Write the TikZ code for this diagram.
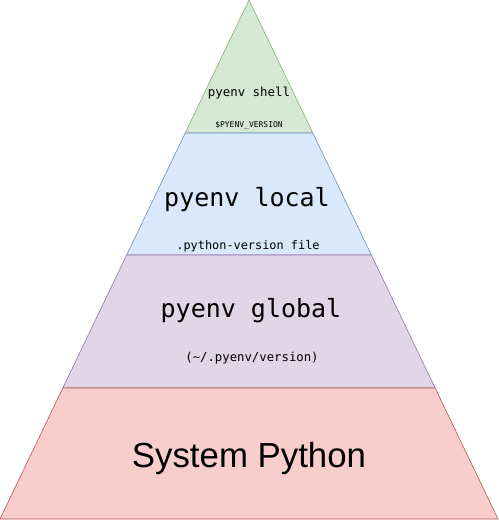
\documentclass[tikz,border=0pt]{standalone}
\usepackage{fontspec}
\setmonofont{DejaVu Sans Mono}
\newfontfamily\pysans{Liberation Sans}
\usetikzlibrary{calc}

\definecolor{shellfill}{HTML}{D5E8D4}
\definecolor{shelldraw}{HTML}{82B366}
\definecolor{localfill}{HTML}{DAE8FC}
\definecolor{localdraw}{HTML}{6C8EBF}
\definecolor{globalfill}{HTML}{E1D5E7}
\definecolor{globaldraw}{HTML}{9673A6}
\definecolor{sysfill}{HTML}{F8CECC}
\definecolor{sysdraw}{HTML}{B85450}

\begin{document}
\begin{tikzpicture}[x=1pt, y=-1pt, line join=round,
    layer/.style={line width=0.6pt},
    cmd/.style={inner sep=0pt, font=\ttfamily\fontsize{#1}{#1}\selectfont}]
    % pyenv 버전 선택 피라미드
    \useasboundingbox (0,0) rectangle (498,521);
    \def\h{519}
    \coordinate (A) at (249, 0);
    \coordinate (BL) at (0, \h);
    \coordinate (BR) at (498, \h);
    \coordinate (L1) at ($(A)!{133/\h}!(BL)$);
    \coordinate (R1) at ($(A)!{133/\h}!(BR)$);
    \coordinate (L2) at ($(A)!{255/\h}!(BL)$);
    \coordinate (R2) at ($(A)!{255/\h}!(BR)$);
    \coordinate (L3) at ($(A)!{388/\h}!(BL)$);
    \coordinate (R3) at ($(A)!{388/\h}!(BR)$);

    \filldraw[layer, fill=shellfill, draw=shelldraw] (A) -- (R1) -- (L1) -- cycle;
    \filldraw[layer, fill=localfill, draw=localdraw] (L1) -- (R1) -- (R2) -- (L2) -- cycle;
    \filldraw[layer, fill=globalfill, draw=globaldraw] (L2) -- (R2) -- (R3) -- (L3) -- cycle;
    \filldraw[layer, fill=sysfill, draw=sysdraw] (L3) -- (R3) -- (BR) -- (BL) -- cycle;

    \node[cmd=12.4] (shell) at (249, 93) {pyenv shell};
    \node[cmd=8] (shellvar) at (249, 125) {\$PYENV\_VERSION};
    \node[cmd=25] (local) at (247, 200) {pyenv local};
    \node[cmd=11.9] (localfile) at (248, 246) {.python-version file};
    \node[cmd=25] (global) at (251, 311) {pyenv global};
    \node[cmd=12.3] (globalfile) at (252, 358) {(\textasciitilde/.pyenv/version)};
    \node[inner sep=0pt, font=\pysans\fontsize{34.8}{34.8}\selectfont] (sys) at (249, 458) {System Python};
\end{tikzpicture}
\end{document}
